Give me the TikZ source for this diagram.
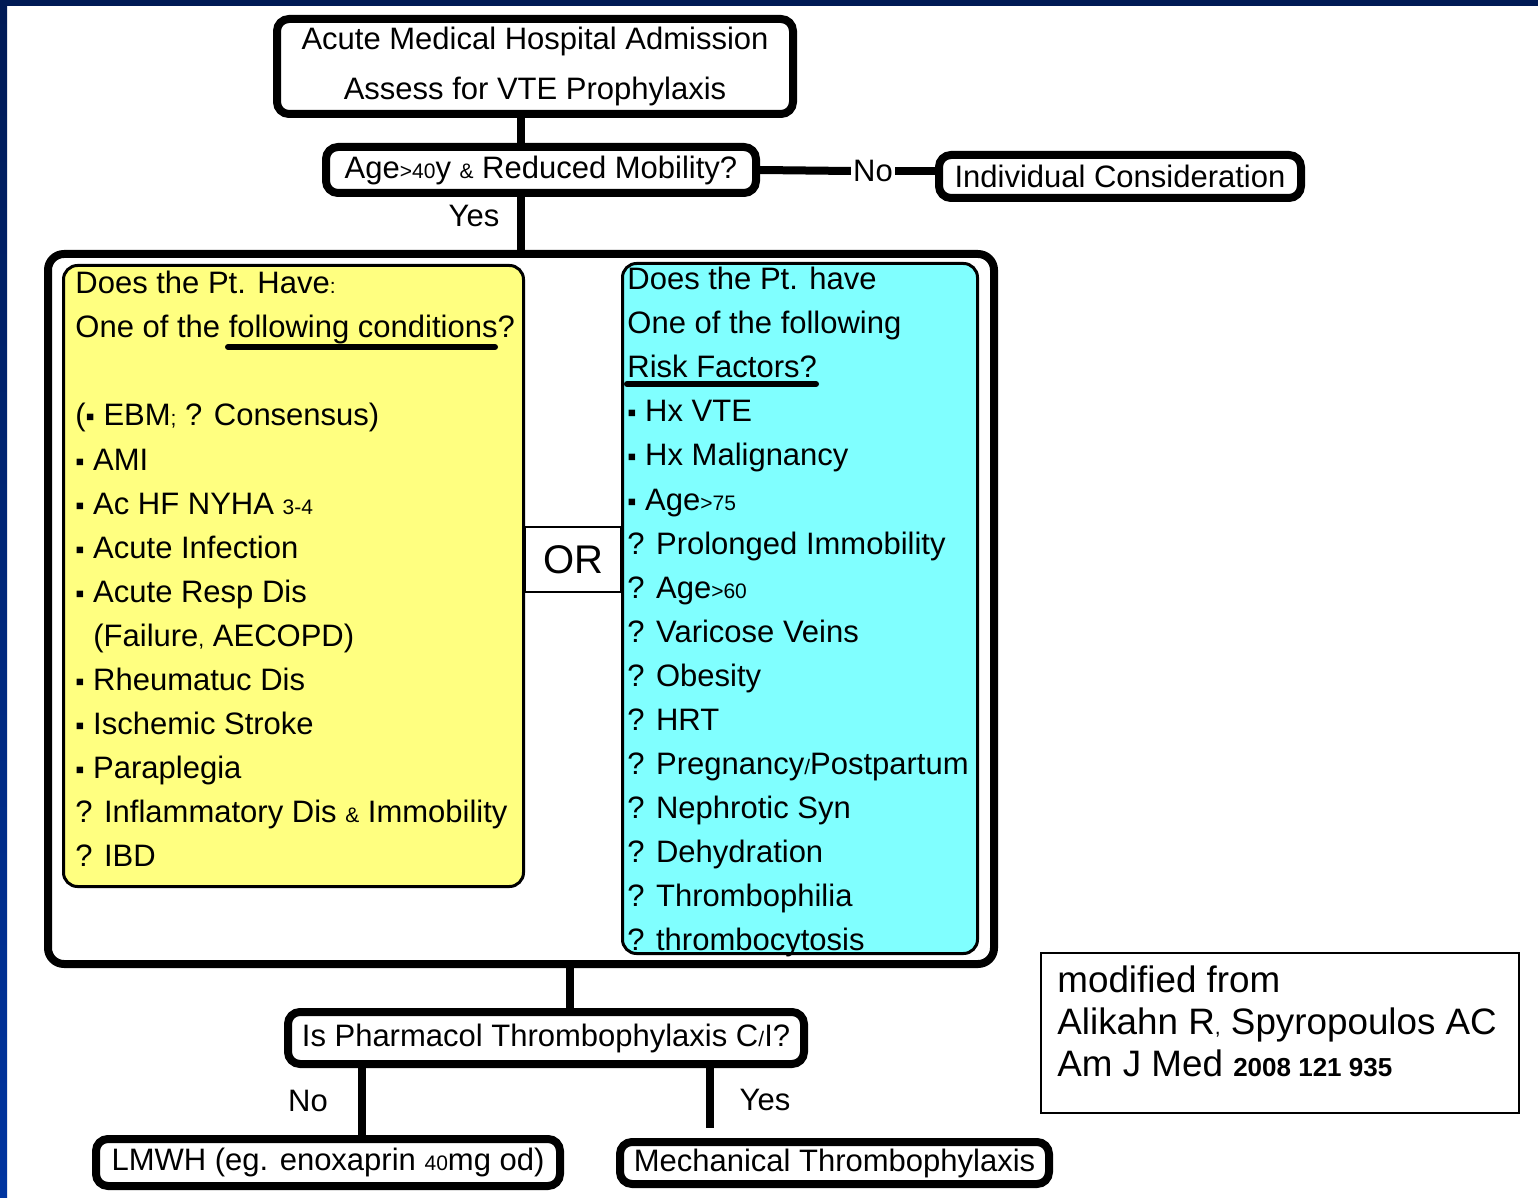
\documentclass[tikz,border=0pt]{standalone}
\usepackage{fontspec}
\setmainfont{Liberation Sans}
\definecolor{navy}{HTML}{001A55}
\definecolor{royal}{HTML}{0034A0}
\definecolor{yel}{HTML}{FFFF80}
\definecolor{cya}{HTML}{80FFFF}
\newcommand{\sm}[1]{{\fontsize{10.5}{10.5}\selectfont #1}}
\newcommand{\smb}[1]{{\fontsize{13}{13}\selectfont\bfseries #1}}
\newcommand{\bul}{{\fontsize{13}{13}\selectfont ▪}}

\begin{document}
\begin{tikzpicture}[x=0.5pt,y=-0.5pt,
    flowbox/.style={draw, line width=4pt, rounded corners=6pt, inner sep=0pt, fill=white,
        align=center, font=\fontsize{15.5}{25}\selectfont},
    listbox/.style={draw, line width=1.5pt, rounded corners=7pt, inner sep=0pt},
    item/.style={anchor=base west, inner sep=0pt, font=\fontsize{15.5}{18}\selectfont},
    citeline/.style={anchor=base west, inner sep=0pt, font=\fontsize{18.4}{21}\selectfont},
    lbl/.style={inner sep=1pt, font=\fontsize{15.5}{18}\selectfont},
    conn/.style={line width=4pt},
    uline/.style={line width=3pt, line cap=round}]
    \useasboundingbox (0,0) rectangle (1538,1198);
    \fill[white] (0,0) rectangle (1538,1198);
    \fill[navy] (0,0) rectangle (1538,6);
    \shade[top color=navy, bottom color=royal] (0,0) rectangle (7,1198);

    % top of the chart
    \node[flowbox, minimum width=258pt, minimum height=47.5pt] (adm) at (535,66.5)
        {Acute Medical Hospital Admission\\Assess for VTE Prophylaxis};
    \node[flowbox, minimum width=215pt, minimum height=23pt] (age) at (541,170)
        {Age\sm{>40}y \sm{\&} Reduced Mobility?};
    \node[flowbox, minimum width=181pt, minimum height=21.5pt] (ind) at (1120,176.5)
        {Individual Consideration};
    \node[lbl] (no1) at (873,171) {No};
    \node[lbl] (yes1) at (474,216) {Yes};

    % big frame with the two lists
    \node[draw, line width=4pt, rounded corners=8pt, minimum width=473pt, minimum height=355pt] (big) at (521,609) {};
    \node[draw, line width=1pt, minimum width=48pt, minimum height=32.5pt,
        font=\fontsize{20}{24}\selectfont] (or) at (573,559.5) {OR};
    \node[listbox, fill=yel, minimum width=230pt, minimum height=310.5pt] (yl) at (293.5,576) {};
    \node[listbox, fill=cya, minimum width=177.5pt, minimum height=345pt] (cy) at (800,608.5) {};

    \foreach \t [count=\i] in {Does the Pt. Have\sm{:}, One of the following conditions?}
        \node[item] (yl\i) at (75,{294+44*(\i-1)}) {\t};
    \foreach \t [count=\i from 4] in {(\bul{} EBM\sm{;} ? Consensus), \bul{} AMI, \bul{} Ac HF NYHA \sm{3-4},
        \bul{} Acute Infection, \bul{} Acute Resp Dis, {\hspace*{9pt}(Failure\sm{,} AECOPD)},
        \bul{} Rheumatuc Dis, \bul{} Ischemic Stroke, \bul{} Paraplegia,
        ? Inflammatory Dis \sm{\&} Immobility, ? IBD}
        \node[item] (yl\i) at (75,{294+44*(\i-1)}) {\t};
    \draw[uline] (228,347) -- (495,347);

    \foreach \t [count=\i] in {Does the Pt. have, One of the following, Risk Factors?,
        \bul{} Hx VTE, \bul{} Hx Malignancy, \bul{} Age\sm{>75}, ? Prolonged Immobility,
        ? Age\sm{>60}, ? Varicose Veins, ? Obesity, ? HRT, ? Pregnancy\sm{/}Postpartum,
        ? Nephrotic Syn, ? Dehydration, ? Thrombophilia, ? thrombocytosis}
        \node[item] (cy\i) at (627,{290+44*(\i-1)}) {\t};
    \draw[uline] (627,384) -- (816,384);

    % bottom of the chart
    \node[flowbox, minimum width=258pt, minimum height=26pt] (pharm) at (546,1038)
        {Is Pharmacol Thrombophylaxis C\sm{/}I?};
    \node[flowbox, minimum width=232pt, minimum height=23.5pt] (lmwh) at (328,1162.5)
        {LMWH (eg. enoxaprin \sm{40}mg od)};
    \node[flowbox, minimum width=214.5pt, minimum height=21pt] (mech) at (834.5,1163)
        {Mechanical Thrombophylaxis};
    \node[lbl] (no2) at (308,1101) {No};
    \node[lbl] (yes2) at (765,1100) {Yes};

    \coordinate (mid) at (570,0);
    \coordinate (lx) at (362,0);
    \coordinate (rx) at (710,0);
    \coordinate (yesend) at (710,1128);

    \draw[conn] (adm.south -| big.north) -- (age.north -| big.north);
    \draw[conn] (age.south -| big.north) -- (big.north);
    \draw[conn] (age.east) -- (no1.west);
    \draw[conn] (no1.east) -- (no1.east -| ind.west);
    \draw[conn] (big.south -| mid) -- (pharm.north -| mid);
    \draw[conn] (pharm.south -| lx) -- (lmwh.north -| lx);
    \draw[conn] (pharm.south -| rx) -- (yesend);

    % source note
    \node[draw, line width=1pt, minimum width=239pt, minimum height=80pt] (cite) at (1280,1033) {};
    \foreach \t [count=\i] in {modified from, {Alikahn R\sm{,} Spyropoulos AC}, {Am J Med \smb{2008 121 935}}}
        \node[citeline] (cite\i) at (1057,{992+42*(\i-1)}) {\t};
\end{tikzpicture}
\end{document}
